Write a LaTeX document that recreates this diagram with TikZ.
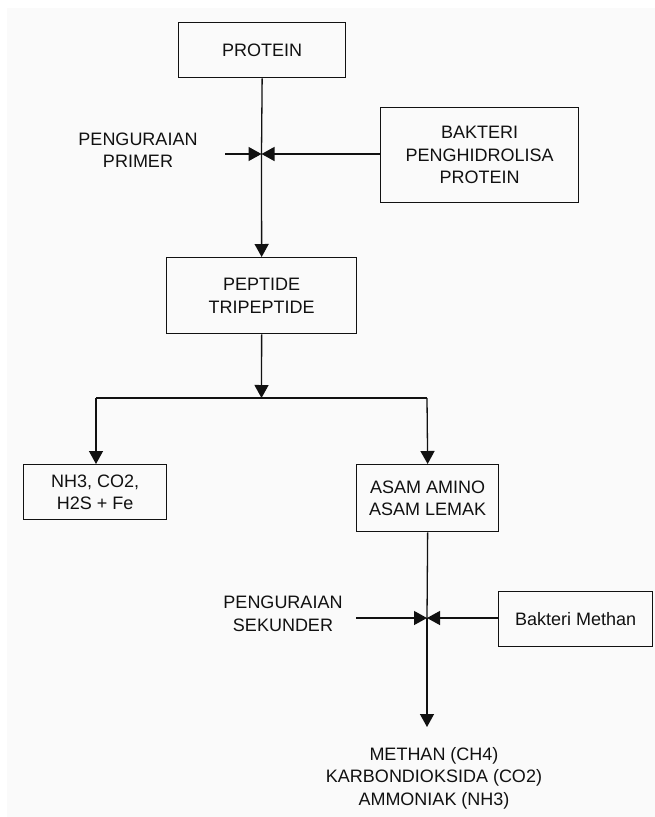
\documentclass[tikz,border=0pt]{standalone}
\usepackage{fontspec}
\setmainfont{Liberation Sans}
\usetikzlibrary{arrows.meta}
\definecolor{paper}{HTML}{FAFAFA}
\definecolor{ink}{HTML}{111111}
\begin{document}
\begin{tikzpicture}[x=1pt,y=-1pt,
  box/.style={draw=ink,line width=1.3pt,inner sep=0pt,anchor=north west},
  txt/.style={align=center,font=\fontsize{18}{22.5}\selectfont,text=ink},
  flow/.style={draw=ink,line width=1.3pt,-{Triangle[length=13pt,width=14pt]}},
  plain/.style={draw=ink,line width=1.3pt}]
  % page and background panel
  \useasboundingbox (0,0) rectangle (655,817);
  \fill[white] (0,0) rectangle (655,817);
  \fill[paper] (7,8) rectangle (655,817);

  % boxes
  \node[box,minimum width=167pt,minimum height=55pt] (protein) at (178,22) {};
  \node[txt] at (protein.center) {PROTEIN};
  \node[box,minimum width=198pt,minimum height=95pt] (bph) at (380,107) {};
  \node[txt] at (bph.center) {BAKTERI\\PENGHIDROLISA\\PROTEIN};
  \node[box,minimum width=190pt,minimum height=76pt] (pep) at (166,257) {};
  \node[txt] at (pep.center) {PEPTIDE\\TRIPEPTIDE};
  \node[box,minimum width=143pt,minimum height=55pt] (nh) at (23,464) {};
  \node[txt] at (nh.center) {NH3, CO2,\\H2S + Fe};
  \node[box,minimum width=142pt,minimum height=67pt] (asam) at (356,464) {};
  \node[txt] at (asam.center) {ASAM AMINO\\ASAM LEMAK};
  \node[box,minimum width=154pt,minimum height=55pt] (bm) at (498,591) {};
  \node[txt] at (bm.center) {Bakteri Methan};

  % free labels
  \node[txt] (primer) at (138,150) {PENGURAIAN\\PRIMER};
  \node[txt] (sekunder) at (283,614) {PENGURAIAN\\SEKUNDER};
  \node[txt] (hasil) at (434,778) {METHAN (CH4)\\KARBONDIOKSIDA (CO2)\\AMMONIAK (NH3)};

  % junction points
  \coordinate (j1) at (261.5,154);
  \coordinate (p1) at (225,154);
  \coordinate (j2) at (261.5,398);
  \coordinate (jl) at (96,398);
  \coordinate (jr) at (427,398);
  \coordinate (j3) at (427,618);
  \coordinate (p3) at (356,618);
  \coordinate (out) at (427,727);

  % primary decomposition
  \draw[plain] (protein.south) -- (j1);
  \draw[flow] (j1) -- (pep.north);
  \draw[flow] (p1) -- (j1);
  \draw[flow] (bph.west |- j1) -- (j1);

  % split
  \draw[flow] (pep.south) -- (j2);
  \draw[plain] (jl) -- (jr);
  \draw[flow] (jl) -- (jl |- nh.north);
  \draw[flow] (jr) -- (asam.north);

  % secondary decomposition
  \draw[plain] (asam.south) -- (j3);
  \draw[flow] (j3) -- (out);
  \draw[flow] (p3) -- (j3);
  \draw[flow] (bm.west |- j3) -- (j3);
\end{tikzpicture}
\end{document}
